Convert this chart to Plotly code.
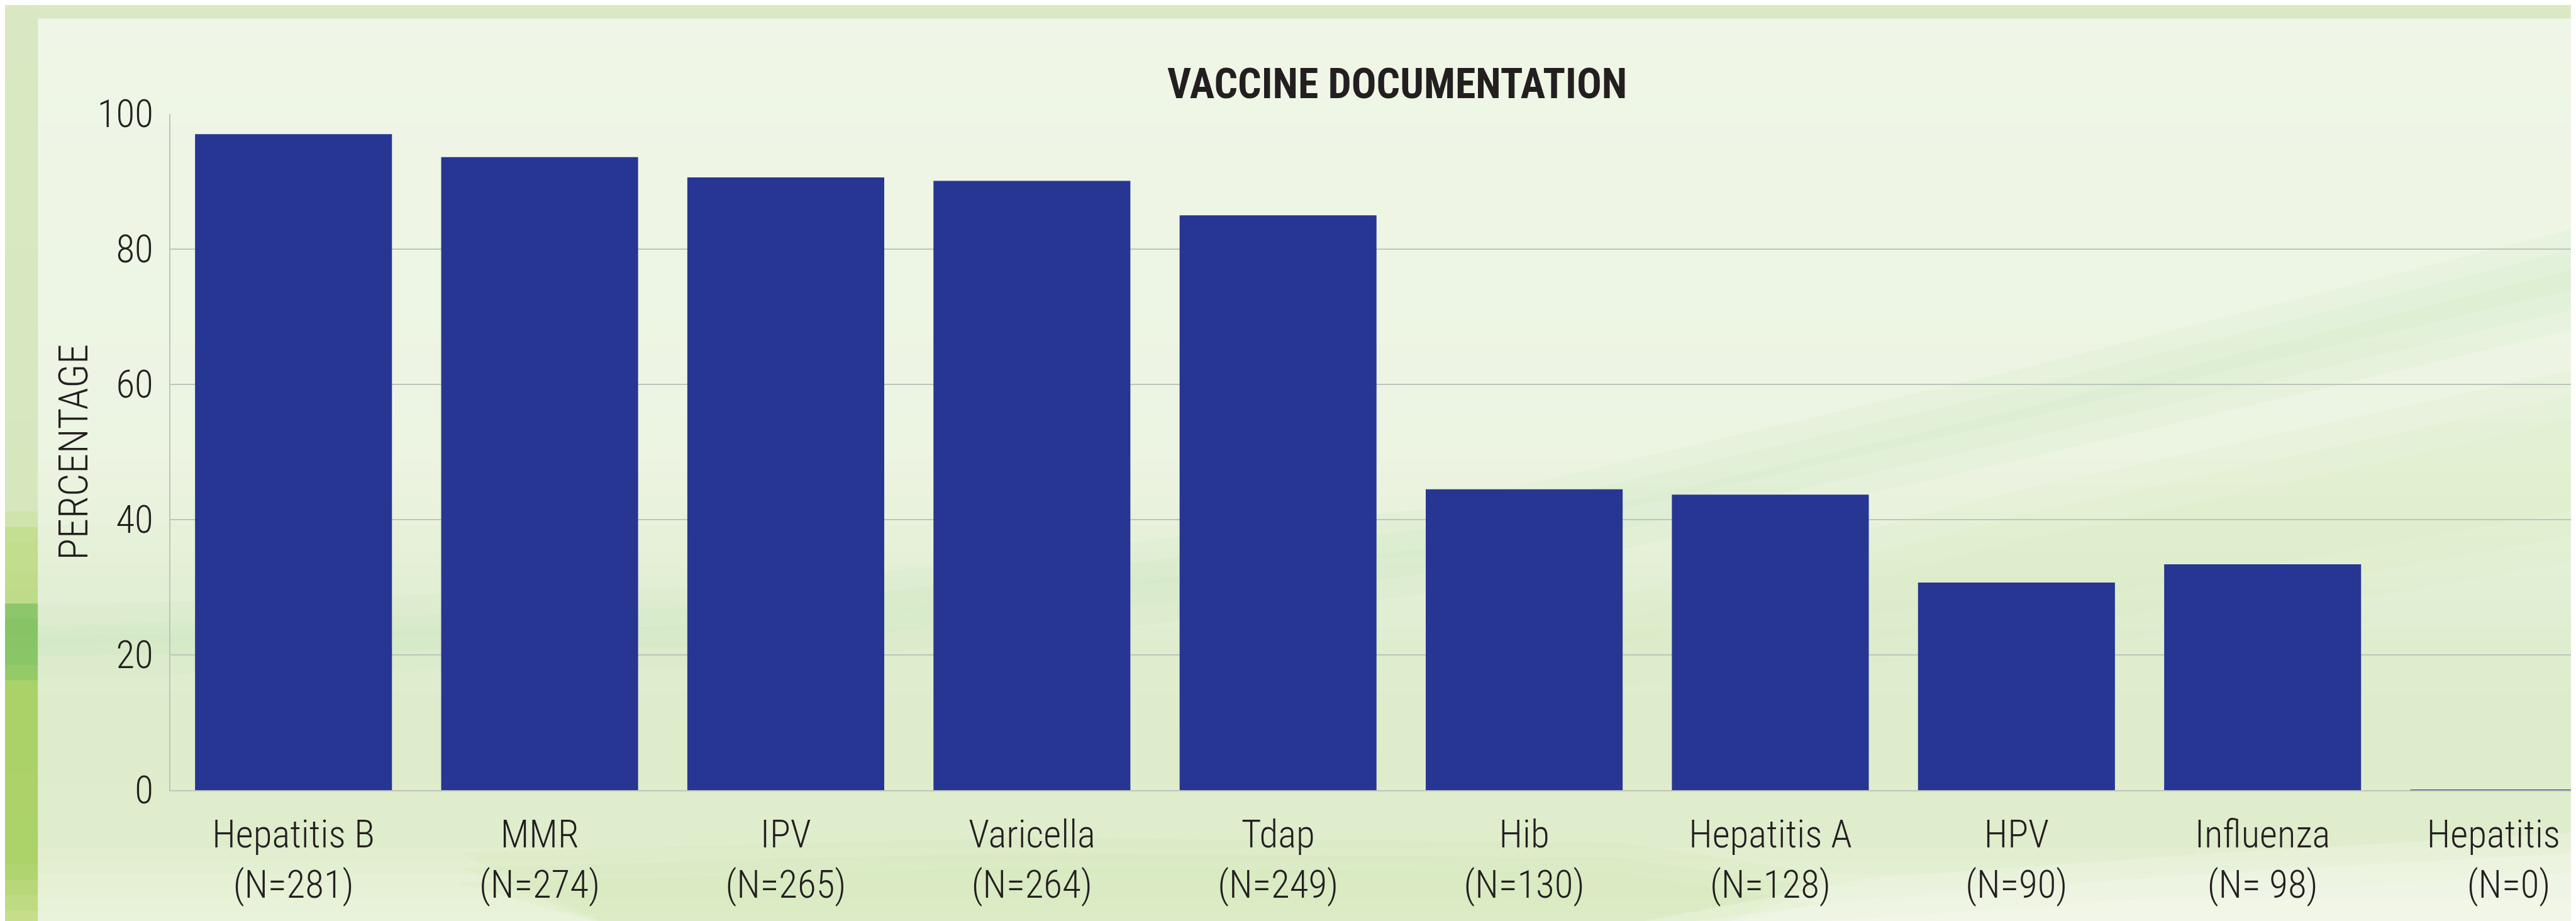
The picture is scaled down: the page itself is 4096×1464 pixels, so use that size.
import plotly.graph_objects as go

# ---------------- data ----------------
vaccines = ["Hepatitis B", "MMR", "IPV", "Varicella", "Tdap", "Hib",
            "Hepatitis A", "HPV", "Influenza", "Hepatitis C"]
n_counts = ["281", "274", "265", "264", "249", "130", "128", "90", " 98", "0"]
percentages = [97.0, 93.6, 90.6, 90.1, 85.0, 44.5, 43.7, 30.7, 33.4, 0.0]
y_ticks = [0, 20, 40, 60, 80, 100]
chart_title = "VACCINE DOCUMENTATION"
y_title = "PERCENTAGE"

labels = [f"{v}<br>(N={n})" for v, n in zip(vaccines, n_counts)]

# ---------------- geometry ----------------
S = 0.802
W, H = 4096, 1464
L, T, BP = 263, 173, 1248          # plot left, top, bottom in px
FONT = ("Roboto Condensed, Pathway Gothic One, Archivo Narrow, Liberation Sans Narrow, "
        "Arial Narrow, DejaVu Sans Condensed, sans-serif")
TXT = "#231f20"
BAR = "#273693"


def px(xr):
    return (xr * S - L) / (W - L)


def py(yr):
    return (BP - yr * S) / (BP - T)


def hexc(c):
    return "rgb(%d,%d,%d)" % tuple(int(round(v)) for v in c)


def interp(stops, y):
    for (y0, c0), (y1, c1) in zip(stops, stops[1:]):
        if y0 <= y <= y1:
            t = (y - y0) / (y1 - y0)
            return tuple(a + (b - a) * t for a, b in zip(c0, c1))
    return stops[-1][1]


shapes = []

# inner panel vertical gradient
panel_stops = [(27, (239, 246, 231)), (900, (236, 244, 226)), (1100, (229, 240, 215)),
               (1250, (223, 237, 208)), (1450, (222, 236, 203)), (1650, (224, 237, 204)),
               (1825, (234, 243, 220))]
nb = 70
for i in range(nb):
    y0 = 27 + (1825 - 27) * i / nb
    y1 = 27 + (1825 - 27) * (i + 1) / nb
    c = interp(panel_stops, (y0 + y1) / 2)
    shapes.append(dict(type="rect", xref="paper", yref="paper", layer="below",
                       x0=px(65), x1=px(5200), y0=py(y1 + 1), y1=py(y0),
                       fillcolor=hexc(c), line=dict(width=0)))

# left band gradient
left_stops = [(0, (217, 232, 194)), (1000, (214, 231, 190)), (1050, (196, 222, 145)),
              (1180, (190, 219, 136)), (1205, (134, 196, 102)), (1320, (138, 198, 104)),
              (1330, (171, 210, 104)), (1700, (172, 210, 106)), (1825, (202, 224, 142))]
nb2 = 60
for i in range(nb2):
    y0 = 1825 * i / nb2
    y1 = 1825 * (i + 1) / nb2
    c = interp(left_stops, (y0 + y1) / 2)
    shapes.append(dict(type="rect", xref="paper", yref="paper", layer="below",
                       x0=px(-5), x1=px(65), y0=py(y1 + 1), y1=py(y0),
                       fillcolor=hexc(c), line=dict(width=0)))


def path_from(points):
    d = "M %f,%f" % (px(points[0][0]), py(points[0][1]))
    for p in points[1:]:
        d += " L %f,%f" % (px(p[0]), py(p[1]))
    return d + " Z"


# soft diagonal green swooshes (layered for a soft edge)
for k in range(3):
    o = 40 * k
    shapes.append(dict(type="path", xref="paper", yref="paper", layer="below",
                       path=path_from([(65, 1190 + o), (1500, 1150 + o), (2800, 1000 + o),
                                       (4000, 720 + o), (5105, 440 + o), (5105, 640 - o),
                                       (4000, 900 - o), (2800, 1170 - o), (1500, 1310 - o),
                                       (65, 1330 - o)]),
                       fillcolor="rgba(190,222,180,0.10)", line=dict(width=0)))
for k in range(3):
    o = 50 * k
    shapes.append(dict(type="path", xref="paper", yref="paper", layer="below",
                       path=path_from([(3000, 1220 + o), (4000, 960 + o), (5105, 720 + o),
                                       (5105, 1100 - o), (4200, 1260 - o), (3200, 1350 - o)]),
                       fillcolor="rgba(212,232,186,0.15)", line=dict(width=0)))
# lower green swoosh
for k in range(3):
    o = 30 * k
    shapes.append(dict(type="path", xref="paper", yref="paper", layer="below",
                       path=path_from([(900, 1680 + o), (2000, 1650 + o), (3200, 1660 + o),
                                       (3600, 1720 + o), (3400, 1825), (1200, 1825)]),
                       fillcolor="rgba(200,228,170,0.15)", line=dict(width=0)))
# white swoosh bottom right
for k in range(3):
    o = 40 * k
    shapes.append(dict(type="path", xref="paper", yref="paper", layer="below",
                       path=path_from([(3200 + 2 * o, 1825), (3700, 1730 + o), (4400, 1680 + o),
                                       (5105, 1640 + o), (5105, 1825)]),
                       fillcolor="rgba(246,250,240,0.3)", line=dict(width=0)))

line_w = [0] * (len(percentages) - 1) + [2]

fig = go.Figure()
fig.add_trace(go.Bar(
    x=labels, y=percentages,
    marker=dict(color=BAR, line=dict(color=BAR, width=line_w)),
    showlegend=False,
))

x_hi = -0.5 + (W - L) / (488 * S)

fig.update_layout(
    width=W, height=H,
    margin=dict(l=L, r=0, t=T, b=H - BP, autoexpand=False),
    paper_bgcolor="rgb(218,233,196)",
    plot_bgcolor="rgba(0,0,0,0)",
    bargap=0.2,
    shapes=shapes,
    font=dict(family=FONT, color=TXT, size=60, weight=300),
    xaxis=dict(
        type="category", range=[-0.5, x_hi], showgrid=False,
        showline=True, linecolor="#bcc5bb", linewidth=2,
        ticks="", ticklabelstandoff=16, ticklabeloverflow="allow",
        tickfont=dict(family=FONT, size=61, color=TXT, weight=300), automargin=False,
    ),
    yaxis=dict(
        range=[0, 100], tickvals=y_ticks, showgrid=True, gridcolor="#bcc5bb",
        gridwidth=2, zeroline=False, showline=True, linecolor="#bcc5bb",
        linewidth=2, ticks="", ticklabelstandoff=13,
        tickfont=dict(family=FONT, size=61, color=TXT, weight=300), automargin=False,
    ),
    annotations=[
        dict(text=chart_title, xref="paper", yref="paper", x=px(2760), y=py(157),
             xanchor="center", yanchor="middle", showarrow=False,
             font=dict(family=FONT, size=66, color=TXT, weight="bold")),
        dict(text=y_title, xref="paper", yref="paper", x=px(137), y=py(886),
             xanchor="center", yanchor="middle", showarrow=False, textangle=-90,
             font=dict(family=FONT, size=64, color=TXT, weight=300)),
    ],
)

fig.write_html("out.html")
